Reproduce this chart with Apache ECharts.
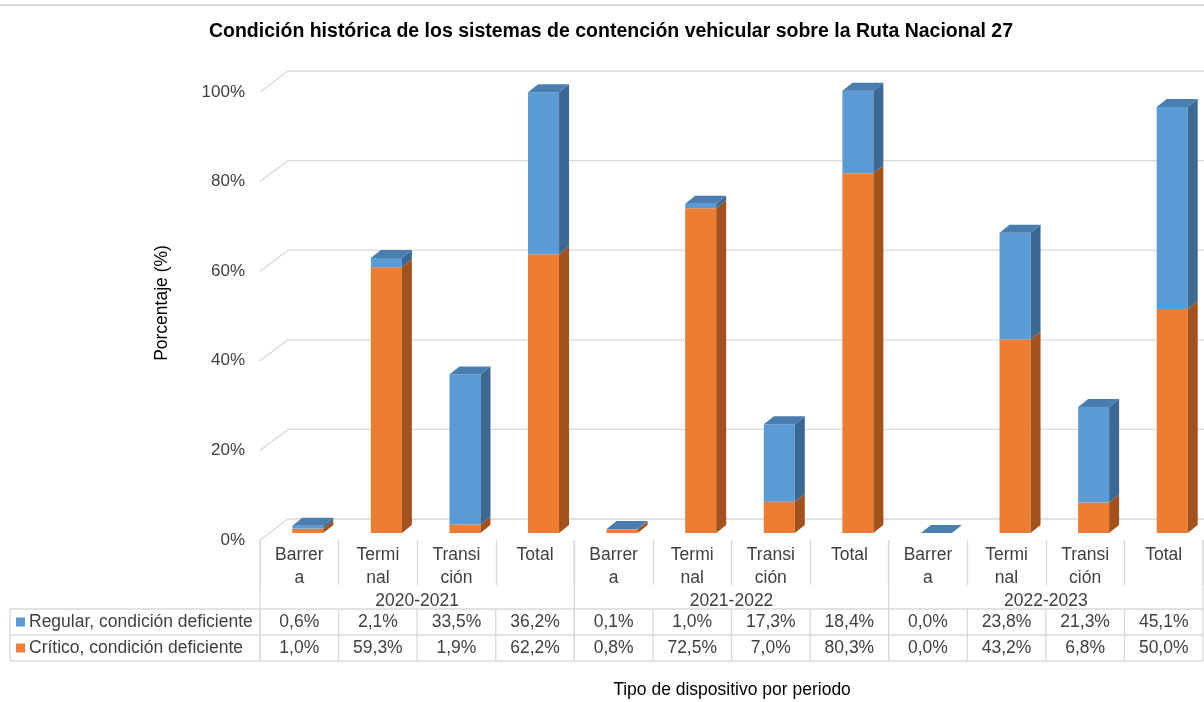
<!DOCTYPE html>
<html>
<head>
<meta charset="utf-8">
<title>Condición histórica de los sistemas de contención vehicular</title>
<script src="https://cdn.jsdelivr.net/npm/echarts@6.0.0/dist/echarts.min.js"></script>
<style>
  html, body { margin: 0; padding: 0; background: #ffffff; }
  #chart { width: 1204px; height: 702px; }
</style>
</head>
<body>
<div id="chart"></div>
<script>
// ---- Data ----
const periodos = ['2020-2021', '2021-2022', '2022-2023'];
const tiposEtiqueta = ['Barrer\na', 'Termi\nnal', 'Transi\nción', 'Total'];
const serieRegular = 'Regular, condición deficiente';
const serieCritico = 'Crítico, condición deficiente';
const regular = [0.6, 2.1, 33.5, 36.2, 0.1, 1.0, 17.3, 18.4, 0.0, 23.8, 21.3, 45.1];
const critico = [1.0, 59.3, 1.9, 62.2, 0.8, 72.5, 7.0, 80.3, 0.0, 43.2, 6.8, 50.0];
const yTicks = [0, 20, 40, 60, 80, 100];

// ---- Styling ----
const FONT = '"Liberation Sans", Arial, sans-serif';
const FS = 17.5;
const TEXT = '#404040';
const LINE = '#d9d9d9';
const C = {
  orange: '#ED7D31', orangeSide: '#A3521D',
  blue: '#5B9BD5', blueSide: '#3C6894', blueTop: '#4A7DB0'
};
// oblique depth of the back wall and of each column
const WALL_DX = 28, WALL_DY = 21;
const BAR_DX = 8.5, BAR_DY = 7, BAR_W = 31, TOP_DX = 10, TOP_DY = 8;
// table rows (offsets below the floor line)
const ROW_PERIOD = 61, ROW_TOP = 69, ROW_H = 26;

const categorias = [];
periodos.forEach(() => tiposEtiqueta.forEach(t => categorias.push(t)));

const chart = echarts.init(document.getElementById('chart'), null, { renderer: 'canvas' });

function line(x1, y1, x2, y2, w) {
  return { type: 'line', shape: { x1, y1, x2, y2 }, style: { stroke: LINE, lineWidth: w || 1 } };
}

const option = {
  backgroundColor: '#ffffff',
  animation: false,
  textStyle: { fontFamily: FONT },
  grid: { left: 260, right: 1, top: 92, bottom: 162 },
  xAxis: {
    type: 'category',
    data: categorias,
    axisLine: { show: false },
    axisTick: { show: true, length: 45, interval: 0, lineStyle: { color: LINE, width: 1.3 } },
    axisLabel: { interval: 0, fontSize: FS, lineHeight: 23, color: TEXT, margin: 3.5, fontFamily: FONT },
    splitLine: { show: false }
  },
  yAxis: {
    type: 'value', min: 0, max: 100, interval: 20,
    axisLine: { show: false }, axisTick: { show: false },
    splitLine: { show: false },
    axisLabel: { formatter: '{value}%', fontSize: 17, color: TEXT, margin: 15, fontFamily: FONT }
  },
  graphic: [
    { type: 'rect', shape: { x: 0, y: 4, width: 1204, height: 2 }, style: { fill: LINE }, silent: true },
    {
      type: 'text', x: 611, y: 32,
      style: {
        text: 'Condición histórica de los sistemas de contención vehicular sobre la Ruta Nacional 27',
        font: 'bold 19.5px ' + FONT, fill: '#000000', textAlign: 'center', textVerticalAlign: 'middle'
      }
    },
    {
      type: 'text', x: 162, y: 303, rotation: Math.PI / 2,
      style: { text: 'Porcentaje (%)', font: FS + 'px ' + FONT, fill: '#000000', textAlign: 'center', textVerticalAlign: 'middle' }
    },
    {
      type: 'text', x: 732, y: 690,
      style: { text: 'Tipo de dispositivo por periodo', font: FS + 'px ' + FONT, fill: '#000000', textAlign: 'center', textVerticalAlign: 'middle' }
    }
  ],
  series: [
    {
      // back wall grid lines and the left wall diagonals
      type: 'custom', name: 'pared', z: 1, silent: true, clip: false,
      data: yTicks.map(v => [0, v]),
      renderItem(params, api) {
        const cs = params.coordSys;
        const y = api.coord([0, api.value(1)])[1];
        return {
          type: 'group',
          children: [
            line(cs.x, y, cs.x + WALL_DX, y - WALL_DY, 1.3),
            line(cs.x + WALL_DX, y - WALL_DY, cs.x + cs.width + WALL_DX, y - WALL_DY, 1.3)
          ]
        };
      }
    },
    {
      // stacked columns drawn as prisms
      type: 'custom', name: 'columnas', z: 3, clip: false,
      data: categorias.map((_, i) => [i, critico[i], regular[i]]),
      renderItem(params, api) {
        const i = api.value(0), c = api.value(1), r = api.value(2);
        const base = api.coord([i, 0]);
        const mid = api.coord([i, c]);
        const top = api.coord([i, c + r]);
        const x0 = base[0] + BAR_DX - BAR_W / 2, x1 = x0 + BAR_W;
        const yb = base[1] - BAR_DY, ym = mid[1] - BAR_DY, yt = top[1] - BAR_DY;
        const poly = (pts, fill) => ({ type: 'polygon', shape: { points: pts }, style: { fill } });
        return {
          type: 'group',
          children: [
            { type: 'rect', shape: { x: x0, y: ym, width: BAR_W, height: yb - ym }, style: { fill: C.orange } },
            poly([[x1, yb], [x1 + TOP_DX, yb - TOP_DY], [x1 + TOP_DX, ym - TOP_DY], [x1, ym]], C.orangeSide),
            { type: 'rect', shape: { x: x0, y: yt, width: BAR_W, height: ym - yt }, style: { fill: C.blue } },
            poly([[x1, ym], [x1 + TOP_DX, ym - TOP_DY], [x1 + TOP_DX, yt - TOP_DY], [x1, yt]], C.blueSide),
            poly([[x0, yt], [x0 + TOP_DX, yt - TOP_DY], [x1 + TOP_DX, yt - TOP_DY], [x1, yt]], C.blueTop)
          ]
        };
      }
    },
    {
      // data table cells: values per category and the column borders
      type: 'custom', name: 'tabla', z: 2, silent: true, clip: false,
      data: categorias.map((_, i) => [i, regular[i], critico[i]]),
      renderItem(params, api) {
        const cs = params.coordSys;
        const i = api.value(0);
        const cx = api.coord([i, 0])[0];
        const w = api.size([1, 0])[0];
        const yf = cs.y + cs.height;
        const y0 = yf + ROW_TOP;
        const fmt = v => v.toFixed(1).replace('.', ',') + '%';
        const cell = (txt, y) => ({
          type: 'text', x: cx, y,
          style: { text: txt, font: FS + 'px ' + FONT, fill: TEXT, textAlign: 'center', textVerticalAlign: 'middle' }
        });
        const left = cx - w / 2, right = cx + w / 2;
        const children = [
          cell(fmt(api.value(1)), y0 + ROW_H / 2),
          cell(fmt(api.value(2)), y0 + ROW_H * 1.5),
          line(left, y0, left, y0 + 2 * ROW_H, 1.3)
        ];
        if (i % tiposEtiqueta.length === 0) children.push(line(left, yf, left, y0 + 2 * ROW_H, 1.3));
        if (i === categorias.length - 1) children.push(line(right, yf, right, y0 + 2 * ROW_H, 1.3));
        return { type: 'group', children };
      }
    },
    {
      // period labels, table outline and the series legend column
      type: 'custom', name: 'periodos', z: 2, silent: true, clip: false,
      data: periodos.map((p, k) => [k]),
      renderItem(params, api) {
        const cs = params.coordSys;
        const k = api.value(0);
        const n = tiposEtiqueta.length;
        const a = api.coord([k * n, 0])[0], b = api.coord([k * n + n - 1, 0])[0];
        const yf = cs.y + cs.height;
        const y0 = yf + ROW_TOP;
        const children = [{
          type: 'text', x: (a + b) / 2, y: yf + ROW_PERIOD,
          style: { text: periodos[k], font: FS + 'px ' + FONT, fill: TEXT, textAlign: 'center', textVerticalAlign: 'middle' }
        }];
        if (k === 0) {
          const L = 10, R = cs.x + cs.width;
          children.push(
            line(L, y0, R, y0, 1.3),
            line(L, y0 + ROW_H, R, y0 + ROW_H, 1.3),
            line(L, y0 + 2 * ROW_H, R, y0 + 2 * ROW_H, 1.3),
            line(L, y0, L, y0 + 2 * ROW_H, 1.3)
          );
          [[serieRegular, C.blue], [serieCritico, C.orange]].forEach((s, j) => {
            const yc = y0 + ROW_H * (j + 0.5);
            children.push(
              { type: 'rect', shape: { x: 16, y: yc - 4.5, width: 9, height: 9 }, style: { fill: s[1] } },
              {
                type: 'text', x: 29, y: yc,
                style: { text: s[0], font: FS + 'px ' + FONT, fill: TEXT, textAlign: 'left', textVerticalAlign: 'middle' }
              }
            );
          });
        }
        return { type: 'group', children };
      }
    }
  ]
};

chart.setOption(option);
</script>
</body>
</html>
